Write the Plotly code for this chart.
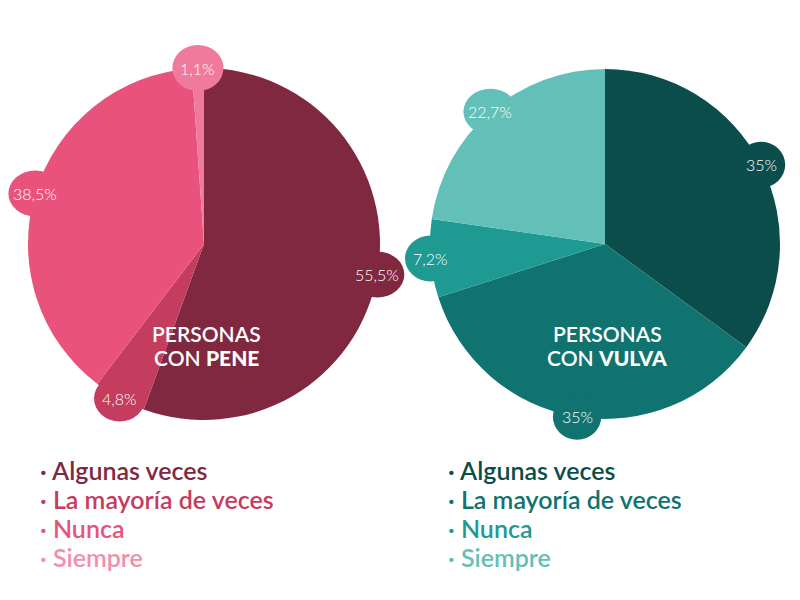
import math
import plotly.graph_objects as go

W, H = 800, 600

categories = ["Algunas veces", "La mayoría de veces", "Nunca", "Siempre"]
pene_values = [55.5, 4.8, 38.5, 1.1]
pene_labels = ["55,5%", "4,8%", "38,5%", "1,1%"]
vulva_values = [35, 35, 7.2, 22.7]
vulva_labels = ["35%", "35%", "7,2%", "22,7%"]

pene_colors = ["#7F2840", "#C43C5E", "#E8527B", "#EF7A9B"]
pene_legend_colors = ["#7F2840", "#C43C5E", "#E8527B", "#F18FAB"]
vulva_colors = ["#0B4D4B", "#107370", "#1E9A92", "#63C0B8"]
vulva_legend_colors = ["#0B4D4B", "#107370", "#1E9A92", "#63C0B8"]

FONT = "Lato"

pies = [
    dict(cx=204, cy=244, r=176, values=pene_values, labels=pene_labels,
         colors=pene_colors, legend_colors=pene_legend_colors,
         title=("PERSONAS", "CON <span style='font-weight:900'>PENE</span>"), legend_x=38),
    dict(cx=605, cy=244, r=175, values=vulva_values, labels=vulva_labels,
         colors=vulva_colors, legend_colors=vulva_legend_colors,
         title=("PERSONAS", "CON <span style='font-weight:900'>VULVA</span>"), legend_x=446),
]

def px(x):
    return x / W

def py(y):
    return 1 - y / H

fig = go.Figure()
shapes = []
annotations = []

for p in pies:
    cx, cy, r = p["cx"], p["cy"], p["r"]
    fig.add_trace(go.Pie(
        values=p["values"], labels=categories, sort=False, direction="clockwise",
        rotation=0, marker=dict(colors=p["colors"], line=dict(width=0)),
        textinfo="none", hoverinfo="label+percent", showlegend=False,
        domain=dict(x=[px(cx - r), px(cx + r)], y=[py(cy + r), py(cy - r)]),
    ))
    total = sum(p["values"])
    cum = 0
    for v, lab, col in zip(p["values"], p["labels"], p["colors"]):
        mid = (cum + v / 2) / total * 2 * math.pi
        cum += v
        bx = cx + r * math.sin(mid)
        by = cy - r * math.cos(mid)
        rx = 20 + 1.4 * len(lab)
        ry = 23
        shapes.append(dict(type="circle", xref="paper", yref="paper",
                           x0=px(bx - rx), x1=px(bx + rx), y0=py(by + ry), y1=py(by - ry),
                           fillcolor=col, line=dict(width=0), layer="above"))
        annotations.append(dict(x=px(bx), y=py(by), xref="paper", yref="paper",
                                text=lab, showarrow=False, xanchor="center", yanchor="middle",
                                font=dict(family=FONT, size=16, color="white", weight=300)))
    for i, line in enumerate(p["title"]):
        annotations.append(dict(x=px(cx + 2), y=py(333 + 24 * i), xref="paper", yref="paper",
                                text=line, showarrow=False, xanchor="center", yanchor="middle",
                                font=dict(family=FONT, size=21, color="white", weight=600)))
    for i, (cat, col) in enumerate(zip(categories, p["legend_colors"])):
        annotations.append(dict(x=px(p["legend_x"]), y=py(470 + 29 * i), xref="paper", yref="paper",
                                text="· " + cat, showarrow=False, xanchor="left", yanchor="middle",
                                font=dict(family=FONT, size=25, color=col, weight=600)))

fig.update_layout(
    width=W, height=H, margin=dict(l=0, r=0, t=0, b=0),
    paper_bgcolor="white", plot_bgcolor="white",
    shapes=shapes, annotations=annotations, showlegend=False,
)

fig.write_html("out.html", config={"displayModeBar": False},
               post_script="document.body.style.margin='0';")
